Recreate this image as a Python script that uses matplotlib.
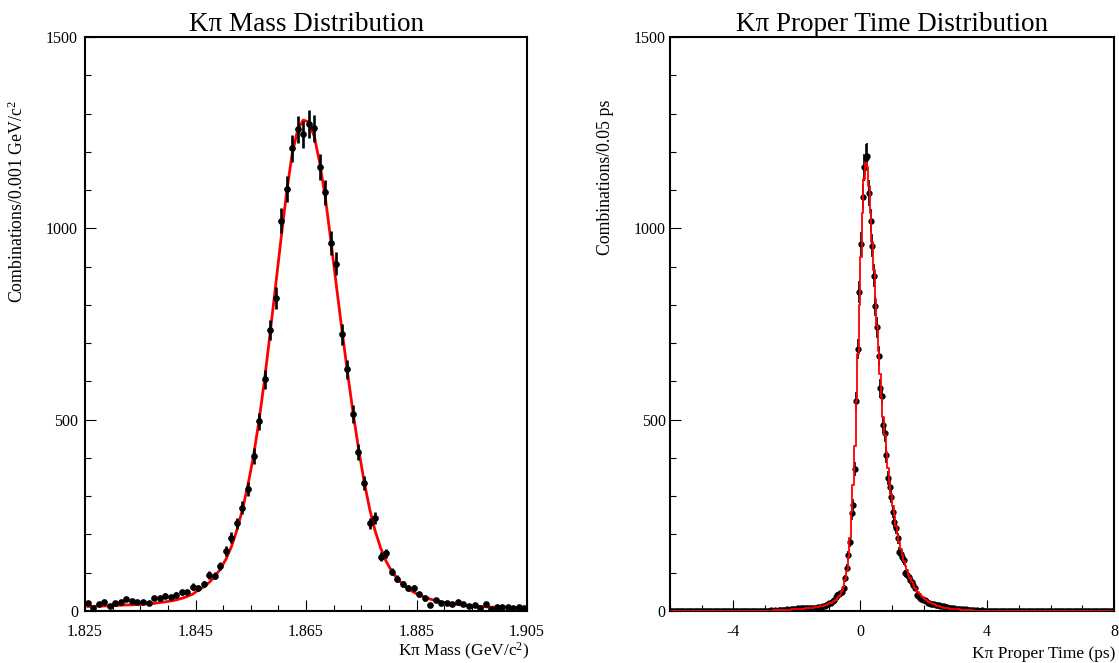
import numpy as np
import matplotlib
matplotlib.use("Agg")
import matplotlib.pyplot as plt

plt.rcParams['font.family'] = ['Liberation Serif', 'DejaVu Serif']
plt.rcParams['mathtext.default'] = 'regular'

# ---- K pi mass histogram: 80 bins of 0.001 GeV/c^2 from 1.825 to 1.905 ----
MASS_LO, MASS_HI, MASS_BIN = 1.825, 1.905, 0.001
mass_counts = [
    20, 9, 18, 23, 14, 22, 23, 31, 27, 24,
    23, 20, 34, 34, 40, 37, 42, 49, 49, 64,
    61, 71, 94, 92, 118, 157, 192, 229, 270, 318,
    405, 496, 605, 734, 818, 1020, 1103, 1209, 1259, 1246,
    1273, 1261, 1161, 1094, 962, 907, 723, 632, 515, 416,
    334, 229, 242, 142, 151, 103, 84, 71, 59, 59,
    44, 33, 16, 29, 20, 20, 18, 24, 18, 13,
    16, 9, 18, 5, 11, 11, 11, 7, 11, 7,
]
mass_fit = [
    12, 12, 13, 13, 14, 14, 15, 16, 16, 17,
    18, 19, 20, 22, 24, 26, 29, 33, 38, 44,
    55, 63, 75, 90, 110, 135, 168, 212, 265, 330,
    405, 498, 605, 725, 850, 975, 1095, 1195, 1258, 1283,
    1278, 1240, 1170, 1080, 968, 850, 735, 625, 520, 425,
    340, 268, 210, 165, 130, 104, 85, 70, 58, 49,
    42, 36, 31, 27, 24, 21, 19, 17, 15, 14,
    13, 12, 11, 10, 10, 9, 9, 8, 8, 8,
]
mass_ticks = [1.825, 1.845, 1.865, 1.885, 1.905]
mass_tick_labels = ['1.825', '1.845', '1.865', '1.885', '1.905']

# ---- K pi proper time histogram: 280 bins of 0.05 ps from -6 to 8 ----
TIME_LO, TIME_HI, TIME_BIN = -6.0, 8.0, 0.05
time_counts = (
    [0] * 20 +                                                       # -6 .. -5
    [0] * 20 +                                                       # -5 .. -4
    [0, 0, 0, 0, 1, 0, 0, 0, 1, 0, 0, 0, 1, 0, 0, 1, 0, 0, 1, 0] +
    [1, 0, 1, 2, 1, 1, 2, 1, 3, 2, 2, 3, 2, 4, 3, 3, 4, 5, 4, 6] +
    [7, 6, 7, 8, 7, 9, 7, 8, 9, 7, 8, 8, 9, 10, 10, 11, 12, 14, 16, 18] +
    [20, 22, 25, 29, 37, 42, 44, 46, 50, 59, 85, 113, 146, 181, 255, 277, 371, 550, 684, 834] +
    [959, 1083, 1159, 1185, 1189, 1092, 1019, 955, 876, 798, 741, 667, 582, 563, 486, 464, 408, 347, 325, 299] +
    [260, 233, 216, 190, 155, 150, 142, 133, 98, 95, 90, 82, 77, 68, 60, 42, 40, 33, 32, 30] +
    [29, 26, 22, 20, 19, 18, 17, 16, 16, 15, 14, 13, 12, 11, 10, 9, 8, 8, 7, 6] +
    [6, 5, 5, 4, 4, 3, 4, 3, 2, 3, 2, 2, 1, 2, 1, 1, 2, 1, 0, 1] +
    [0] * 80                                                         # 4 .. 8
)
time_fit = (
    [0] * 20 +
    [0] * 20 +
    [0, 0, 0, 0, 0, 0, 0, 0, 0, 0, 0, 0, 1, 1, 1, 1, 1, 1, 1, 1] +
    [1, 1, 1, 1, 1, 2, 2, 2, 2, 2, 2, 3, 3, 3, 3, 3, 4, 4, 4, 5] +
    [5, 5, 6, 6, 6, 7, 7, 8, 8, 9, 9, 10, 10, 11, 12, 13, 14, 15, 16, 18] +
    [20, 22, 24, 27, 30, 34, 38, 43, 51, 62, 80, 105, 142, 192, 258, 330, 430, 550, 672, 800] +
    [925, 1040, 1130, 1170, 1160, 1110, 1040, 965, 890, 815, 745, 680, 620, 560, 508, 460, 415, 375, 338, 305] +
    [275, 248, 223, 200, 180, 162, 146, 131, 118, 106, 95, 85, 76, 68, 61, 55, 49, 44, 40, 36] +
    [32, 29, 26, 24, 21, 19, 17, 16, 14, 13, 11, 10, 9, 8, 8, 7, 6, 6, 5, 5] +
    [4, 4, 4, 3, 3, 3, 2, 2, 2, 2, 2, 1, 1, 1, 1, 1, 1, 1, 1, 1] +
    [0] * 80
)
time_ticks = [-4, 0, 4, 8]
time_tick_labels = ['-4', '0', '4', '8']

y_ticks = [0, 500, 1000, 1500]
y_tick_labels = ['0', '500', '1000', '1500']


def style_axes(ax, minor_x, label_pad):
    ax.set_ylim(0, 1500)
    ax.set_yticks(y_ticks)
    ax.set_yticklabels(y_tick_labels)
    ax.set_yticks(np.arange(0, 1501, 100), minor=True)
    ax.set_xticks(minor_x, minor=True)
    for sp in ax.spines.values():
        sp.set_linewidth(1.5)
    ax.tick_params(which='both', direction='in', top=False, right=False,
                   width=0.8, labelsize=11.5)
    ax.tick_params(which='major', length=8)
    ax.tick_params(which='minor', length=4.3)
    ax.tick_params(axis='x', pad=9.5)
    ax.tick_params(axis='y', pad=label_pad)
    # ROOT puts the y labels slightly below their tick
    for lab in ax.get_yticklabels():
        lab.set_verticalalignment('center_baseline')


fig = plt.figure(figsize=(11.19, 6.63), dpi=100)
W, H = 1119.0, 663.0
ax1 = fig.add_axes([85 / W, 52 / H, 442 / W, 574 / H])
ax2 = fig.add_axes([670 / W, 52 / H, 444 / W, 574 / H])

# left panel: mass
m_x = MASS_LO + MASS_BIN * (np.arange(len(mass_counts)) + 0.5)
m_y = np.array(mass_counts, dtype=float)
ax1.plot(m_x, mass_fit, color='red', lw=2.0, zorder=2)
ax1.errorbar(m_x, m_y, yerr=np.sqrt(m_y), fmt='o', color='black', ms=3.8,
             elinewidth=1.9, capsize=0, zorder=3)
ax1.set_xlim(MASS_LO, MASS_HI)
ax1.set_xticks(mass_ticks)
ax1.set_xticklabels(mass_tick_labels)
style_axes(ax1, np.arange(MASS_LO, MASS_HI + 1e-9, 0.005), 5)
ax1.set_title('Kπ Mass Distribution', fontsize=19.5, pad=4)

# right panel: proper time
t_x = TIME_LO + TIME_BIN * (np.arange(len(time_counts)) + 0.5)
t_y = np.array(time_counts, dtype=float)
ax2.errorbar(t_x, t_y, yerr=np.sqrt(t_y), fmt='o', color='black', ms=3.5,
             elinewidth=1.2, capsize=0, zorder=3)
ax2.plot(t_x, time_fit, color='red', lw=1.3, drawstyle='steps-mid', zorder=4)
ax2.set_xlim(TIME_LO, TIME_HI)
ax2.set_xticks(time_ticks)
ax2.set_xticklabels(time_tick_labels)
style_axes(ax2, np.arange(-6, 9, 1), 3)
ax2.set_title('Kπ Proper Time Distribution', fontsize=19.5, pad=4)

# axis titles, ROOT style placement
fig.text(17 / W, 1 - 100 / H, 'Combinations/0.001 GeV/c$^2$', rotation=90,
         ha='center', va='top', fontsize=12.8)
fig.text(605 / W, 1 - 100 / H, 'Combinations/0.05 ps', rotation=90,
         ha='center', va='top', fontsize=12.8)
fig.text(529 / W, 0.5 / H, 'Kπ Mass (GeV/c$^2$)', ha='right', va='bottom',
         fontsize=12.5)
fig.text(1115 / W, 0.5 / H, 'Kπ Proper Time (ps)', ha='right', va='bottom',
         fontsize=12.5)

fig.savefig('out.png', dpi=100)
